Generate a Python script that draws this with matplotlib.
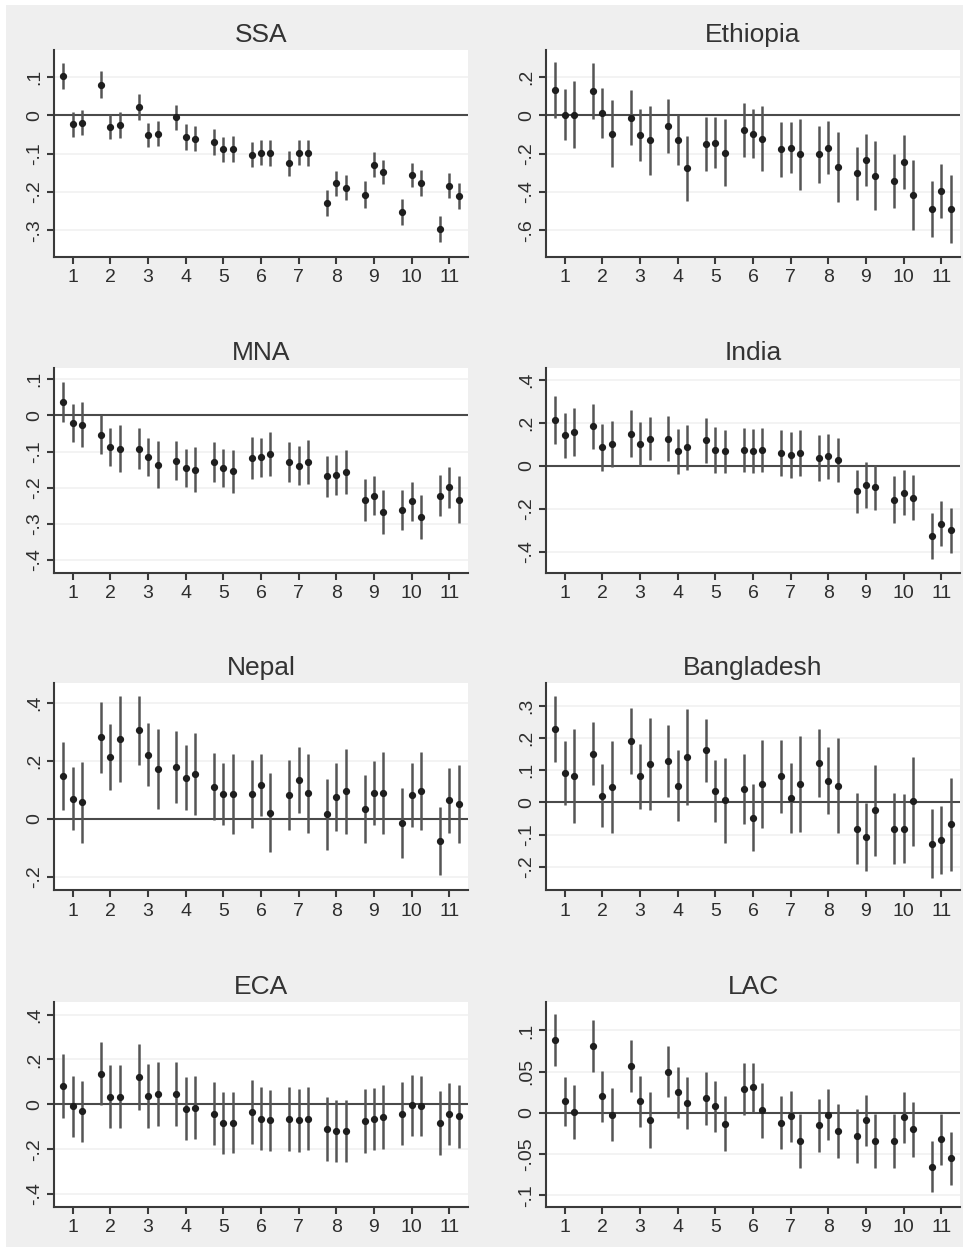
import numpy as np
import matplotlib
matplotlib.use("Agg")
import matplotlib.pyplot as plt
from matplotlib.patches import Rectangle

plt.rcParams['font.family'] = ['Liberation Sans', 'DejaVu Sans']

groups = np.arange(1, 12)
offsets = [-0.25, 0.0, 0.25]

# point estimates and half-width of the confidence interval, 3 per group
ssa_est = [0.102, -0.024, -0.020, 0.080, -0.030, -0.026, 0.022, -0.052, -0.048,
           -0.006, -0.057, -0.061, -0.070, -0.089, -0.089, -0.103, -0.098, -0.098,
           -0.126, -0.098, -0.098, -0.229, -0.178, -0.189, -0.207, -0.129, -0.148,
           -0.252, -0.157, -0.178, -0.298, -0.184, -0.211]
ssa_ci = [0.035, 0.033, 0.033, 0.034, 0.032, 0.033, 0.034, 0.032, 0.033,
          0.033, 0.034, 0.032, 0.034, 0.033, 0.034, 0.033, 0.032, 0.034,
          0.033, 0.032, 0.034, 0.034, 0.033, 0.033, 0.034, 0.033, 0.032,
          0.034, 0.031, 0.034, 0.034, 0.032, 0.034]

eth_est = [0.130, 0.003, 0.003, 0.125, 0.012, -0.096, -0.014, -0.104, -0.130,
           -0.057, -0.130, -0.278, -0.151, -0.143, -0.195, -0.078, -0.096, -0.122,
           -0.179, -0.169, -0.203, -0.205, -0.169, -0.270, -0.304, -0.235, -0.317,
           -0.343, -0.243, -0.417, -0.490, -0.397, -0.490]
eth_ci = [0.145, 0.135, 0.176, 0.146, 0.129, 0.174, 0.143, 0.137, 0.180,
          0.140, 0.130, 0.168, 0.139, 0.133, 0.176, 0.140, 0.130, 0.171,
          0.143, 0.135, 0.185, 0.150, 0.137, 0.181, 0.140, 0.137, 0.180,
          0.141, 0.141, 0.181, 0.144, 0.141, 0.178]

mna_est = [0.037, -0.021, -0.026, -0.053, -0.088, -0.092, -0.092, -0.116, -0.136,
           -0.125, -0.146, -0.150, -0.130, -0.146, -0.155, -0.118, -0.116, -0.107,
           -0.130, -0.139, -0.130, -0.169, -0.164, -0.157, -0.233, -0.222, -0.267,
           -0.261, -0.238, -0.281, -0.222, -0.199, -0.233]
mna_ci = [0.055, 0.052, 0.062, 0.054, 0.052, 0.065, 0.057, 0.053, 0.065,
          0.055, 0.052, 0.062, 0.055, 0.052, 0.059, 0.058, 0.054, 0.061,
          0.055, 0.053, 0.061, 0.056, 0.055, 0.061, 0.058, 0.054, 0.060,
          0.055, 0.054, 0.062, 0.056, 0.056, 0.064]

ind_est = [0.214, 0.141, 0.157, 0.183, 0.085, 0.101, 0.149, 0.101, 0.126,
           0.126, 0.067, 0.085, 0.118, 0.074, 0.067, 0.074, 0.067, 0.074,
           0.059, 0.051, 0.059, 0.036, 0.043, 0.028, -0.119, -0.091, -0.101,
           -0.158, -0.127, -0.150, -0.329, -0.271, -0.302]
ind_ci = [0.112, 0.105, 0.110, 0.106, 0.108, 0.107, 0.110, 0.101, 0.101,
          0.105, 0.105, 0.105, 0.105, 0.106, 0.100, 0.102, 0.102, 0.102,
          0.108, 0.108, 0.105, 0.107, 0.105, 0.102, 0.100, 0.107, 0.104,
          0.108, 0.105, 0.105, 0.107, 0.105, 0.105]

nep_est = [0.149, 0.069, 0.058, 0.282, 0.214, 0.276, 0.306, 0.222, 0.173,
           0.179, 0.143, 0.155, 0.112, 0.087, 0.087, 0.087, 0.118, 0.022,
           0.083, 0.135, 0.089, 0.016, 0.077, 0.095, 0.034, 0.089, 0.089,
           -0.015, 0.083, 0.095, -0.076, 0.064, 0.052]
nep_ci = [0.118, 0.109, 0.140, 0.123, 0.114, 0.149, 0.120, 0.108, 0.139,
          0.125, 0.114, 0.143, 0.116, 0.108, 0.138, 0.117, 0.107, 0.138,
          0.120, 0.113, 0.137, 0.123, 0.118, 0.146, 0.119, 0.110, 0.141,
          0.121, 0.111, 0.135, 0.118, 0.112, 0.134]

ban_est = [0.228, 0.091, 0.082, 0.152, 0.021, 0.047, 0.190, 0.081, 0.118,
           0.129, 0.052, 0.141, 0.162, 0.035, 0.007, 0.042, -0.047, 0.058,
           0.081, 0.014, 0.058, 0.123, 0.068, 0.052, -0.081, -0.108, -0.024,
           -0.081, -0.081, 0.003, -0.128, -0.117, -0.068]
ban_ci = [0.103, 0.100, 0.145, 0.098, 0.098, 0.143, 0.103, 0.101, 0.143,
          0.111, 0.111, 0.150, 0.097, 0.096, 0.132, 0.110, 0.105, 0.136,
          0.114, 0.108, 0.149, 0.106, 0.104, 0.147, 0.111, 0.105, 0.141,
          0.109, 0.107, 0.139, 0.108, 0.105, 0.144]

eca_est = [0.082, -0.009, -0.030, 0.137, 0.033, 0.033, 0.122, 0.036, 0.045,
           0.045, -0.019, -0.016, -0.042, -0.083, -0.083, -0.034, -0.064, -0.071,
           -0.067, -0.071, -0.064, -0.112, -0.119, -0.119, -0.074, -0.067, -0.057,
           -0.042, -0.004, -0.009, -0.082, -0.042, -0.054]
eca_ci = [0.141, 0.135, 0.136, 0.141, 0.141, 0.141, 0.146, 0.143, 0.143,
          0.143, 0.141, 0.141, 0.140, 0.137, 0.136, 0.141, 0.139, 0.136,
          0.143, 0.140, 0.139, 0.143, 0.139, 0.139, 0.143, 0.139, 0.143,
          0.140, 0.136, 0.134, 0.143, 0.138, 0.139]

lac_est = [0.088, 0.014, 0.001, 0.081, 0.020, -0.002, 0.057, 0.014, -0.008,
           0.050, 0.025, 0.012, 0.018, 0.008, -0.013, 0.029, 0.031, 0.003,
           -0.012, -0.004, -0.034, -0.015, -0.002, -0.022, -0.028, -0.009, -0.034,
           -0.034, -0.005, -0.020, -0.065, -0.032, -0.055]
lac_ci = [0.0315, 0.030, 0.0325, 0.0317, 0.031, 0.032, 0.032, 0.031, 0.034,
          0.031, 0.031, 0.032, 0.032, 0.031, 0.033, 0.032, 0.030, 0.033,
          0.032, 0.031, 0.033, 0.032, 0.031, 0.033, 0.033, 0.031, 0.033,
          0.033, 0.031, 0.033, 0.031, 0.031, 0.032]

titles = ['SSA', 'Ethiopia', 'MNA', 'India', 'Nepal', 'Bangladesh', 'ECA', 'LAC']
ests = [ssa_est, eth_est, mna_est, ind_est, nep_est, ban_est, eca_est, lac_est]
cis = [ssa_ci, eth_ci, mna_ci, ind_ci, nep_ci, ban_ci, eca_ci, lac_ci]

yticks = [[0.1, 0, -0.1, -0.2, -0.3],
          [0.2, 0, -0.2, -0.4, -0.6],
          [0.1, 0, -0.1, -0.2, -0.3, -0.4],
          [0.4, 0.2, 0, -0.2, -0.4],
          [0.4, 0.2, 0, -0.2],
          [0.3, 0.2, 0.1, 0, -0.1, -0.2],
          [0.4, 0.2, 0, -0.2, -0.4],
          [0.1, 0.05, 0, -0.05, -0.1]]
ylabs = [['.1', '0', '-.1', '-.2', '-.3'],
         ['.2', '0', '-.2', '-.4', '-.6'],
         ['.1', '0', '-.1', '-.2', '-.3', '-.4'],
         ['.4', '.2', '0', '-.2', '-.4'],
         ['.4', '.2', '0', '-.2'],
         ['.3', '.2', '.1', '0', '-.1', '-.2'],
         ['.4', '.2', '0', '-.2', '-.4'],
         ['.1', '.05', '0', '-.05', '-.1']]
ylims = [(-0.37, 0.17), (-0.74, 0.34), (-0.436, 0.131), (-0.5, 0.455),
         (-0.246, 0.47), (-0.272, 0.371), (-0.458, 0.456), (-0.114, 0.1345)]

W, H = 963, 1247
fig = plt.figure(figsize=(W / 100, H / 100), dpi=100, facecolor='white')
fig.patches.append(Rectangle((6 / W, 0), 1, 1 - 5 / H, transform=fig.transFigure,
                             facecolor='#efefef', edgecolor='none', zorder=-10))

lefts = [54, 546]
rows = [(50, 257), (368, 573), (683, 890), (1002, 1207)]

xs = (np.repeat(groups, 3) + np.tile(offsets, len(groups)))

for k in range(8):
    top, bot = rows[k // 2]
    l = lefts[k % 2]
    ax = fig.add_axes([l / W, 1 - bot / H, 414 / W, (bot - top) / H])
    ax.set_facecolor('white')
    for s in ['top', 'right']:
        ax.spines[s].set_visible(False)
    for s in ['left', 'bottom']:
        ax.spines[s].set_color('#3a3a3a')
        ax.spines[s].set_linewidth(1.5)

    for t in yticks[k]:
        ax.axhline(t, color='#f1f1f1', lw=1.2, zorder=0)
    ax.axhline(0, color='#4a4a4a', lw=1.5, zorder=1)

    est = np.array(ests[k])
    ci = np.array(cis[k])
    ax.vlines(xs, est - ci, est + ci, color='#555555', lw=1.8, zorder=2)
    ax.plot(xs, est, 'o', color='#1e1e1e', ms=4.2, zorder=3)

    ax.set_xlim(0.5, 11.5)
    ax.set_ylim(*ylims[k])
    ax.set_xticks(groups)
    ax.set_xticklabels([str(g) for g in groups])
    ax.set_yticks(yticks[k])
    ax.set_yticklabels(ylabs[k], rotation=90, va='center')
    ax.tick_params(axis='both', colors='#3a3a3a', labelcolor='#2e2e2e',
                   labelsize=14, length=5, width=1.5, direction='out')
    ax.tick_params(axis='x', pad=4)
    ax.tick_params(axis='y', pad=3)
    ax.set_title(titles[k], fontsize=19, color='#333333', pad=6)

fig.savefig('out.png', dpi=100, facecolor=fig.get_facecolor())
